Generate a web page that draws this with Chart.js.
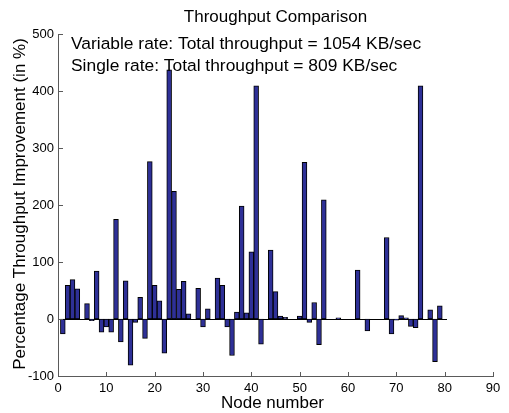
<!DOCTYPE html>
<html>
<head>
<meta charset="utf-8">
<script src="https://cdn.jsdelivr.net/npm/chart.js@4.4.1/dist/chart.umd.min.js"></script>
<style>
html,body{margin:0;padding:0;background:#fff;}
#wrap{width:509px;height:413px;position:relative;}
</style>
</head>
<body>
<div id="wrap"><canvas id="c" width="509" height="413"></canvas></div>
<script>
// node numbers 1..80 and improvement per node (in %)
var nodes = [];
for (var i = 1; i <= 80; i++) nodes.push(i);
var improvement = [
  -26, 59, 69, 53, 0, 27, -3, 84, -23, -14,
  -23, 175, -40, 67, -81, -6, 38, -34, 276, 59,
  32, -60, 437, 224, 52, 66, 9, 0, 54, -14,
  18, 0, 72, 59, -14, -64, 12, 198, 11, 118,
  409, -44, 0, 121, 48, 5, 3, 0, 0, 5,
  275, -6, 29, -45, 209, 0, 0, 2, 0, 0,
  0, 86, 0, -21, 0, 0, 0, 143, -26, -2,
  6, 2, -13, -15, 409, 0, 16, -75, 23, 0
];
var xTicks = [0, 10, 20, 30, 40, 50, 60, 70, 80, 90];
var yTicks = [-100, 0, 100, 200, 300, 400, 500];
var titleText = 'Throughput Comparison';
var notes = ['Variable rate: Total throughput = 1054 KB/sec', 'Single rate: Total throughput = 809 KB/sec'];
var xLabel = 'Node number';
var yLabel = 'Percentage Throughput Improvement (in %)';

var FONT = '"Liberation Sans", Arial, Helvetica, sans-serif';
var AXIS = '#5a5a5a';

var decor = {
  id: 'decor',
  beforeDraw: function(chart){
    var ctx = chart.ctx;
    ctx.save();
    ctx.fillStyle = '#fff';
    ctx.fillRect(0, 0, chart.width, chart.height);
    ctx.restore();
  },
  beforeDatasetsDraw: function(chart){
    var ctx = chart.ctx, x = chart.scales.x, y = chart.scales.y, a = chart.chartArea;
    var L = Math.round(a.left);
    var y0 = Math.round(y.getPixelForValue(0));
    var x1 = Math.round(x.getPixelForValue(nodes[nodes.length - 1] + 0.5));
    ctx.save();
    ctx.fillStyle = '#000';
    ctx.fillRect(L, y0, x1 - L, 1);
    ctx.restore();
  },
  afterDraw: function(chart){
    var ctx = chart.ctx, x = chart.scales.x, y = chart.scales.y, a = chart.chartArea;
    var L = Math.round(a.left), B = Math.round(a.bottom), T = Math.round(a.top), R = Math.round(a.right);
    ctx.save();
    ctx.fillStyle = AXIS;
    // left and bottom axes with inward ticks
    ctx.fillRect(L, T, 1, B - T + 1);
    ctx.fillRect(L, B, R - L + 1, 1);
    yTicks.forEach(function(v){
      ctx.fillRect(L, Math.round(y.getPixelForValue(v)), 5, 1);
    });
    xTicks.forEach(function(v){
      ctx.fillRect(Math.round(x.getPixelForValue(v)), B - 4, 1, 5);
    });

    var cx = (a.left + a.right) / 2;
    ctx.fillStyle = '#000';
    ctx.textBaseline = 'middle';
    ctx.textAlign = 'center';
    ctx.font = '17px ' + FONT;
    ctx.fillText(titleText, cx, 17);
    ctx.fillText(xLabel, cx - 3, 403);
    ctx.textAlign = 'left';
    ctx.font = '17.4px ' + FONT;
    ctx.fillText(notes[0], 71, 44);
    ctx.fillText(notes[1], 71, 66);
    ctx.font = '17px ' + FONT;
    ctx.translate(20, 204);
    ctx.rotate(-Math.PI / 2);
    ctx.textAlign = 'center';
    ctx.fillText(yLabel, 0, 0);
    ctx.restore();
  }
};

new Chart(document.getElementById('c'), {
  type: 'bar',
  data: {
    datasets: [{
      data: nodes.map(function(n, i){ return {x: n, y: improvement[i]}; }),
      backgroundColor: '#2e3097',
      borderColor: '#000',
      borderWidth: 1,
      borderSkipped: false,
      barPercentage: 1,
      categoryPercentage: 1
    }]
  },
  options: {
    responsive: false,
    animation: false,
    layout: { padding: { top: 34, right: 16, left: 0, bottom: 0 } },
    plugins: { legend: { display: false }, tooltip: { enabled: false } },
    scales: {
      x: {
        type: 'linear', min: 0, max: 90, offset: false,
        afterBuildTicks: function(s){ s.ticks = xTicks.map(function(v){ return {value: v}; }); },
        grid: { display: false, drawTicks: false, offset: false },
        border: { display: false },
        ticks: { color: '#000', font: { family: FONT, size: 13 }, padding: 5, maxRotation: 0 },
        afterFit: function(s){ s.height = 37; }
      },
      y: {
        min: -100, max: 500,
        afterBuildTicks: function(s){ s.ticks = yTicks.map(function(v){ return {value: v}; }); },
        grid: { display: false, drawTicks: false },
        border: { display: false },
        ticks: { color: '#000', font: { family: FONT, size: 13 }, padding: 4 },
        afterFit: function(s){ s.width = 58; }
      }
    }
  },
  plugins: [decor]
});
</script>
</body>
</html>
